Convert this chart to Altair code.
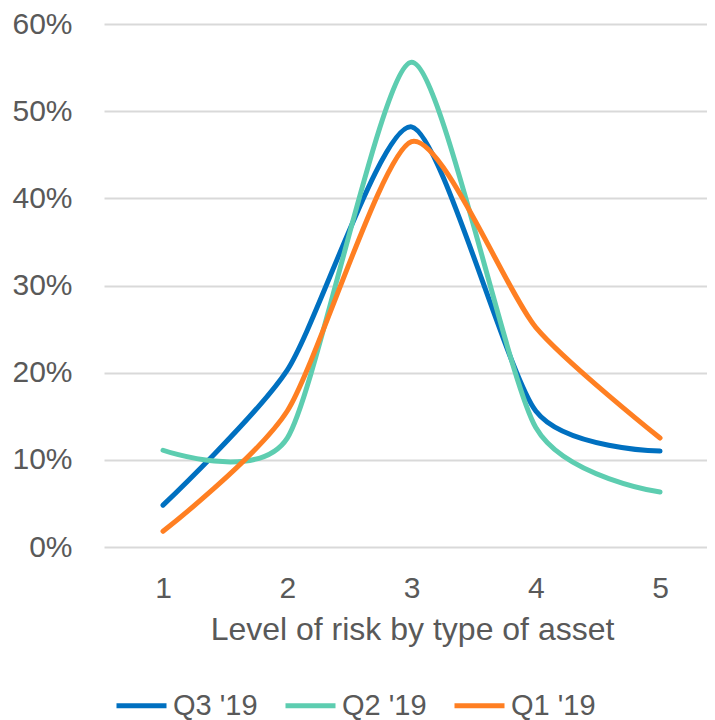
import altair as alt
import pandas as pd

levels = [1, 2, 3, 4, 5]
series = ["Q3 '19", "Q2 '19", "Q1 '19"]
q3_19 = [0.048, 0.203, 0.482, 0.156, 0.110]
q2_19 = [0.111, 0.125, 0.556, 0.137, 0.063]
q1_19 = [0.018, 0.156, 0.465, 0.252, 0.125]
colors = ["#0070C0", "#5DCDB0", "#FF7F22"]

rows = []
for name, vals in zip(series, [q3_19, q2_19, q1_19]):
    for lv, v in zip(levels, vals):
        rows.append({"level": lv, "share": v, "series": name})
df = pd.DataFrame(rows)

FONT = "Liberation Sans"
GREY = "#595959"

color_scale = alt.Scale(domain=series, range=colors)

x_enc = alt.X(
    "level:Q",
    scale=alt.Scale(domain=[0.525, 5.378], nice=False, zero=False),
    axis=alt.Axis(
        values=levels, format="d", grid=False, domain=False, ticks=False, tickSize=0,
        labelPadding=50, labelBaseline="alphabetic", labelFontSize=30, labelColor=GREY,
        labelFont=FONT, title="Level of risk by type of asset", titleFontSize=32,
        titleFont=FONT, titleColor=GREY, titleFontWeight="normal",
        titleBaseline="alphabetic", titleX=308, titleY=92, titleAlign="center",
    ),
)
y_enc = alt.Y(
    "share:Q",
    scale=alt.Scale(domain=[0, 0.6], nice=False),
    axis=alt.Axis(
        values=[0, 0.1, 0.2, 0.3, 0.4, 0.5, 0.6], format=".0%", grid=True,
        gridColor="#D9D9D9", gridWidth=2, domain=False, ticks=False, tickSize=0,
        labelPadding=32, labelFontSize=30, labelColor=GREY, labelFont=FONT,
        title=None,
    ),
)
color_enc = alt.Color(
    "series:N",
    scale=color_scale,
    legend=alt.Legend(
        title=None, orient="none", legendX=10, legendY=654, direction="horizontal",
        columns=3, symbolType="stroke", symbolSize=2500, symbolStrokeWidth=5,
        labelFontSize=29, labelColor=GREY, labelFont=FONT, labelOffset=4,
        columnPadding=17,
    ),
)

layers = []
for name in series:
    layers.append(
        alt.Chart(df)
        .transform_filter(alt.datum.series == name)
        .mark_line(interpolate="cardinal", tension=0.3, strokeWidth=5, strokeCap="round")
        .encode(x=x_enc, y=y_enc, color=color_enc)
    )

chart = (
    alt.layer(*layers)
    .properties(
        width=603,
        height=523,
        autosize=alt.AutoSizeParams(type="none"),
        padding={"left": 96, "top": 16, "right": 0, "bottom": 178},
    )
    .configure_view(stroke=None)
)

chart.save("out.html", embed_options={"renderer": "svg", "actions": False})
